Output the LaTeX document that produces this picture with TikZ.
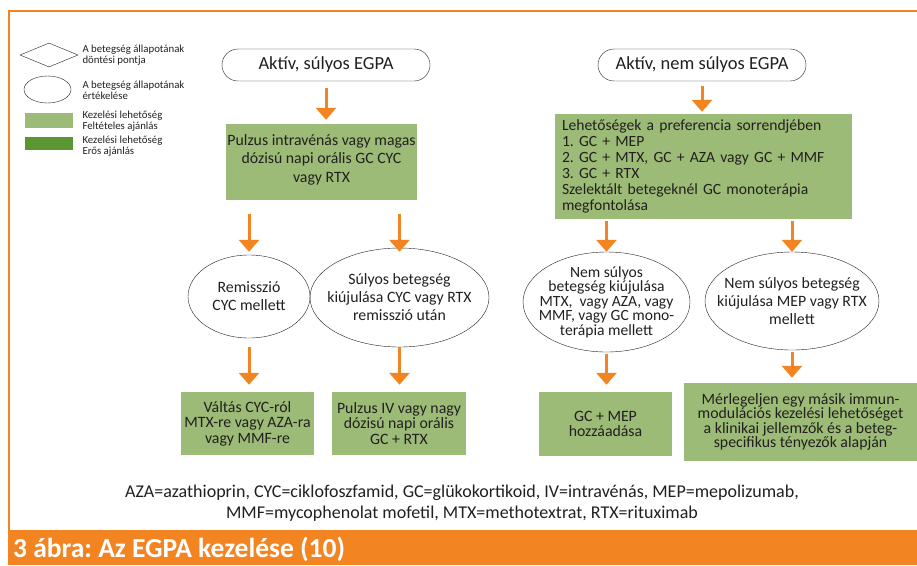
\documentclass[tikz,border=0pt]{standalone}
\usepackage{fontspec}
\setmainfont{Carlito}
\usetikzlibrary{arrows.meta,shapes.geometric}
\definecolor{egor}{HTML}{F28522}
\definecolor{soft}{HTML}{9BBB76}
\definecolor{strong}{HTML}{5A9632}
\definecolor{ink}{HTML}{231F20}
\frenchspacing

\begin{document}
\begin{tikzpicture}[x=1pt,y=-1pt,text=ink,
  start/.style={draw=ink,rounded corners=16pt,minimum width=208pt,minimum height=32pt,font=\fontsize{18.5}{20}\selectfont},
  opt/.style={fill=soft,inner sep=0pt,align=center,font=\fontsize{15.8}{15.5}\selectfont},
  ev/.style={draw=ink,ellipse,inner sep=0pt},
  evtxt/.style={align=center,font=\fontsize{15.8}{18}\selectfont},
  ar/.style={-{Triangle[width=20pt,length=12pt]},line width=3pt,draw=egor},
  lg/.style={anchor=west,align=left,font=\fontsize{10.8}{11}\selectfont}]
\useasboundingbox (0,0) rectangle (917,565);
% frame and caption band
\draw[egor,line width=1.5pt] (917,11) -- (9,11) -- (9,530);
\fill[egor] (8,530) rectangle (917,565);
\node[anchor=west,text=white,inner sep=0pt,font=\fontsize{27.5}{29}\selectfont\bfseries] (cap) at (13,549) {3 ábra: Az EGPA kezelése (10)};

% legend
\node[draw=ink,diamond,inner sep=0pt,minimum width=58pt,minimum height=24pt] (lgdia) at (49,55) {};
\node[lg] (lgdiaT) at (79,55) {A betegség állapotának\\döntési pontja};
\node[ev,minimum width=47pt,minimum height=27pt] (lgev) at (47.5,89.5) {};
\node[lg] (lgevT) at (79,90) {A betegség állapotának\\értékelése};
\node[fill=soft,inner sep=0pt,minimum width=48pt,minimum height=15pt] (lgsoft) at (49,120.5) {};
\node[lg] (lgsoftT) at (79,121) {Kezelési lehetőség\\Feltételes ajánlás};
\node[fill=strong,inner sep=0pt,minimum width=48pt,minimum height=13pt] (lgstrong) at (49,143.5) {};
\node[lg] (lgstrongT) at (79,146) {Kezelési lehetőség\\Erős ajánlás};

% severe branch
\node[start] (pillL) at (326,65) {Aktív, súlyos EGPA};
\node[opt,minimum width=191pt,minimum height=76pt,font=\fontsize{15.8}{18.5}\selectfont] (optL) at (321.5,162) {\\[-12pt]Pulzus intravénás vagy magas\\dózisú napi orális GC CYC\\vagy RTX};
\node[ev,minimum width=122pt,minimum height=83pt,label={[evtxt]center:Remisszió\\CYC mellett}] (remL) at (249,296.5) {};
\node[ev,minimum width=179pt,minimum height=99pt,label={[evtxt]center:Súlyos betegség\\kiújulása CYC vagy RTX\\remisszió után}] (relL) at (399.5,297.5) {};
\node[opt,minimum width=133pt,minimum height=63pt] (swA) at (247.5,423.5) {Váltás CYC-ról\\MTX-re vagy AZA-ra\\vagy MMF-re};
\node[opt,minimum width=134pt,minimum height=63pt] (pulB) at (399,423.5) {Pulzus IV vagy nagy\\dózisú napi orális\\GC + RTX};

% non-severe branch
\node[start] (pillR) at (702,65) {Aktív, nem súlyos EGPA};
\node[opt,minimum width=297pt,minimum height=105pt,align=left,text width=283pt,font=\fontsize{15.6}{16}\selectfont] (optR) at (703.5,166.5) {Lehetőségek a preferencia sorrendjében\\1. GC + MEP\\2. GC + MTX, GC + AZA vagy GC + MMF\\3. GC + RTX\\Szelektált betegeknél GC monoterápia\\megfontolása};
\node[ev,minimum width=167pt,minimum height=100pt,label={[evtxt,font=\fontsize{15.6}{14.5}\selectfont]center:{Nem súlyos\\betegség kiújulása\\MTX,\ \ vagy AZA, vagy\\MMF, vagy GC mono-\\terápia mellett}}] (relR1) at (606.5,302) {};
\node[ev,minimum width=174pt,minimum height=98pt,label={[evtxt]center:Nem súlyos betegség\\kiújulása MEP vagy RTX\\mellett}] (relR2) at (792,301) {};
\node[opt,minimum width=133pt,minimum height=64pt,font=\fontsize{15.8}{14.5}\selectfont] (mepC) at (605.5,424) {GC + MEP\\hozzáadása};
\node[opt,minimum width=233pt,minimum height=78pt,font=\fontsize{15.8}{14.5}\selectfont] (othD) at (800.5,422) {Mérlegeljen egy másik immun-\\modulációs kezelési lehetőséget\\a klinikai jellemzők és a beteg-\\specifikus tényezők alapján};

% abbreviations
\node[align=center,font=\fontsize{18}{21}\selectfont] (abbr) at (462,503) {AZA=azathioprin, CYC=ciklofoszfamid, GC=glükokortikoid, IV=intravénás, MEP=mepolizumab,\\MMF=mycophenolat mofetil, MTX=methotextrat, RTX=rituximab};

% arrows
\draw[ar,shorten <=7pt,shorten >=4pt] (pillL.south) -- (pillL.south |- optL.north);
\draw[ar,shorten <=14pt,shorten >=3pt] (remL.north |- optL.south) -- (remL.north);
\draw[ar,shorten <=14pt,shorten >=-4pt] (relL.north |- optL.south) -- (relL.north);
\draw[ar,shorten <=9pt,shorten >=7pt] (remL.south) -- (remL.south |- swA.north);
\draw[ar,shorten <=0pt,shorten >=7pt] (relL.south) -- (relL.south |- pulB.north);
\draw[ar,shorten <=5pt,shorten >=2pt] (pillR.south) -- (pillR.south |- optR.north);
\draw[ar,shorten <=2pt,shorten >=0pt] (relR1.north |- optR.south) -- (relR1.north);
\draw[ar,shorten <=2pt,shorten >=0pt] (relR2.north |- optR.south) -- (relR2.north);
\draw[ar,shorten <=2pt,shorten >=7pt] (relR1.south) -- (relR1.south |- mepC.north);
\draw[ar,shorten <=2pt,shorten >=5pt] (relR2.south) -- (relR2.south |- othD.north);
\end{tikzpicture}
\end{document}
